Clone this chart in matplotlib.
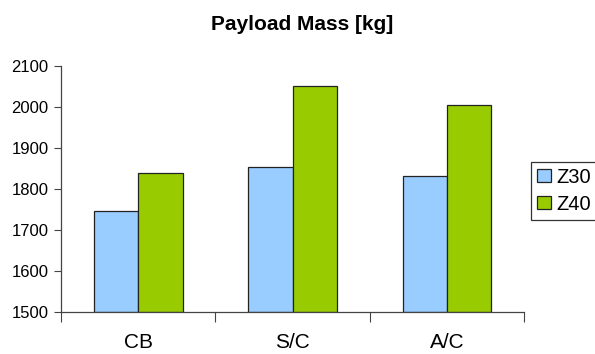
import numpy as np
import matplotlib.pyplot as plt

plt.rcParams['font.family'] = ['Liberation Sans', 'DejaVu Sans']

categories = ["CB", "S/C", "A/C"]
z30 = [1747, 1853, 1832]
z40 = [1838, 2051, 2004]
yticks = [1500, 1600, 1700, 1800, 1900, 2000, 2100]

fig = plt.figure(figsize=(5.95, 3.54), dpi=100)
ax = fig.add_axes([0.1025, 0.1178, 0.7787, 0.6966])

x = np.arange(len(categories))
w = 0.287
ax.bar(x - w / 2, np.array(z30) - 1500, w, bottom=1500, color="#99CCFF",
       edgecolor="#222222", linewidth=0.9, label="Z30")
ax.bar(x + w / 2, np.array(z40) - 1500, w, bottom=1500, color="#99CC00",
       edgecolor="#222222", linewidth=0.9, label="Z40")

ax.set_xlim(-0.5, len(categories) - 0.5)
ax.set_ylim(1500, 2100)
ax.set_yticks(yticks)
ax.set_yticklabels([str(t) for t in yticks], fontsize=12)

# category labels sit between the tick marks
ax.set_xticks(np.arange(len(categories) + 1) - 0.5)
ax.set_xticklabels([])
ax.set_xticks(x, minor=True)
ax.set_xticklabels(categories, minor=True, fontsize=15)
ax.tick_params(axis="x", which="minor", length=0, pad=15)
ax.tick_params(axis="x", which="major", length=7, color="#444444", direction="out")
ax.tick_params(axis="y", length=5, color="#444444", pad=4)

for side in ["top", "right"]:
    ax.spines[side].set_visible(False)
for side in ["left", "bottom"]:
    ax.spines[side].set_color("#444444")
    ax.spines[side].set_linewidth(0.9)

fig.text(301.7 / 595, 1 - 29.5 / 354, "Payload Mass [kg]", fontsize=15,
         fontweight="bold", ha="center", va="baseline")

leg = fig.legend(loc="upper left", bbox_to_anchor=(531 / 595, 1 - 161.5 / 354),
                 fontsize=14.5, frameon=True, fancybox=False, borderpad=0.3,
                 handlelength=0.67, handleheight=0.67, handletextpad=0.3,
                 labelspacing=0.4, borderaxespad=0)
leg.get_frame().set_edgecolor("black")
leg.get_frame().set_linewidth(0.9)

fig.savefig("out.png", dpi=100)
